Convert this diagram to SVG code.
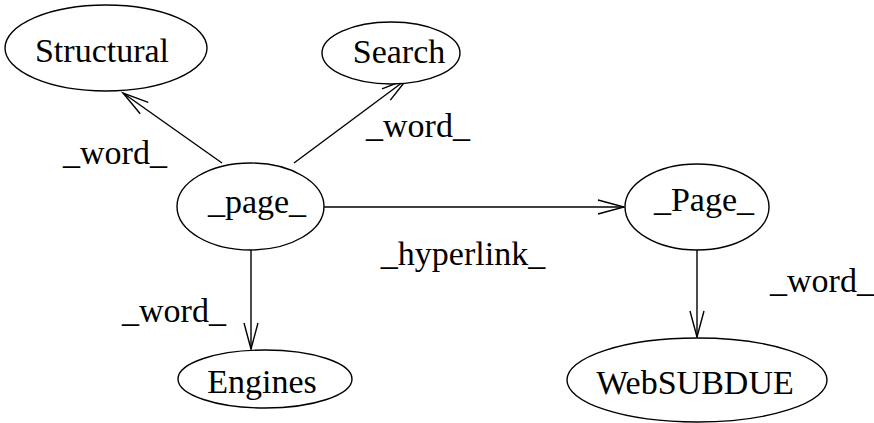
<svg xmlns="http://www.w3.org/2000/svg" width="874" height="423" viewBox="0 0 874 423">
  <style>
    .node ellipse { fill: #fff; stroke: #000; stroke-width: 1.4; }
    text { font-family: "Liberation Serif", "Times New Roman", serif; font-size: 34px; fill: #000; text-anchor: middle; }
    .edge { stroke: #000; stroke-width: 1.4; fill: none; marker-end: url(#arrow); }
  </style>
  <defs>
    <marker id="arrow" viewBox="-30 -12 34 24" refX="0" refY="0" markerWidth="34" markerHeight="24" markerUnits="userSpaceOnUse" orient="auto">
      <path d="M-26,-7 L0,0 L-26,7" fill="none" stroke="#000" stroke-width="1.4"/>
    </marker>
  </defs>

  <!-- connectors -->
  <g id="edges">
    <line class="edge" x1="222" y1="163" x2="123" y2="93"/>
    <line class="edge" x1="294" y1="163" x2="407" y2="79"/>
    <line class="edge" x1="324" y1="207" x2="624" y2="207"/>
    <line class="edge" x1="251" y1="250" x2="251" y2="349"/>
    <line class="edge" x1="697" y1="250" x2="697" y2="337"/>
    <text x="115" y="164">_word_</text>
    <text x="418" y="137">_word_</text>
    <text x="463" y="265">_hyperlink_</text>
    <text x="174" y="322">_word_</text>
    <text x="822" y="292">_word_</text>
  </g>

  <!-- nodes -->
  <g id="structural" class="node">
    <ellipse cx="106" cy="48" rx="101" ry="43"/>
    <text x="102" y="62">Structural</text>
  </g>
  <g id="search" class="node">
    <ellipse cx="391" cy="53" rx="69" ry="31"/>
    <text x="399" y="63">Search</text>
  </g>
  <g id="page" class="node">
    <ellipse cx="250.5" cy="206.5" rx="73.5" ry="43.5"/>
    <text x="257" y="213">_page_</text>
  </g>
  <g id="Page" class="node">
    <ellipse cx="697" cy="207" rx="72" ry="43"/>
    <text x="704" y="211">_Page_</text>
  </g>
  <g id="engines" class="node">
    <ellipse cx="265" cy="379" rx="87" ry="29"/>
    <text x="262" y="393">Engines</text>
  </g>
  <g id="websubdue" class="node">
    <ellipse cx="697" cy="380" rx="130" ry="42"/>
    <text x="695" y="394">WebSUBDUE</text>
  </g>
</svg>
